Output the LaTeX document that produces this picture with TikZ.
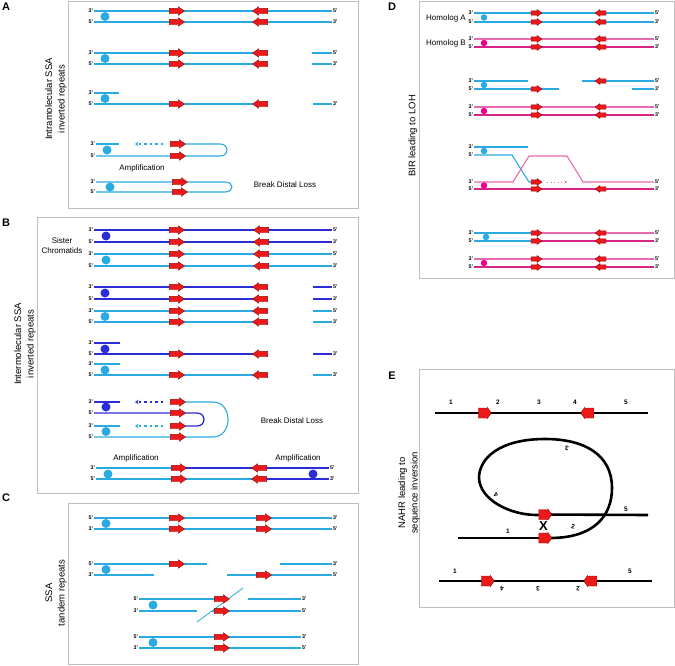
\documentclass[tikz,border=0pt]{standalone}
\usepackage{fontspec}
\setmainfont{Liberation Sans}
\usetikzlibrary{arrows.meta, shapes.arrows, backgrounds}

\definecolor{lblue}{RGB}{41,171,226}
\definecolor{dblue}{RGB}{45,45,215}
\definecolor{pinka}{RGB}{232,105,175}
\definecolor{pinkb}{RGB}{215,35,135}
\definecolor{pdot}{RGB}{236,0,140}
\definecolor{redfill}{RGB}{235,25,25}
\definecolor{redline}{RGB}{150,10,10}
\definecolor{boxgray}{RGB}{190,190,190}

\begin{document}
\begin{tikzpicture}[x=1pt, y=-1pt,
  font=\fontsize{8}{9.5}\selectfont,
  panel/.style={draw=boxgray, line width=0.8pt},
  letter/.style={font=\fontsize{11}{12}\selectfont\bfseries},
  vlabel/.style={rotate=90, align=center, font=\fontsize{9.5}{12.5}\selectfont},
  term/.style={font=\fontsize{5.3}{6}\selectfont\bfseries, inner sep=0.8pt},
  num/.style={font=\fontsize{6.5}{7}\selectfont\bfseries, inner sep=0.5pt},
  lb/.style={draw=lblue, line width=1.1pt},
  lbt/.style={draw=lblue, line width=1.1pt},
  db/.style={draw=dblue, line width=1.3pt},
  pa/.style={draw=pinka, line width=1.1pt},
  pb/.style={draw=pinkb, line width=1.1pt},
  bk/.style={draw=black, line width=2.6pt},
  rep/.style={single arrow, draw=redline, fill=redfill, line width=0.4pt,
    inner xsep=0pt, inner ysep=2.5pt, minimum width=0pt, minimum height=15pt,
    single arrow head extend=1.6pt, single arrow tip angle=70},
  srep/.style={rep, minimum height=11pt, inner ysep=1.9pt,
    single arrow head extend=1.3pt},
  brep/.style={rep, minimum height=13pt, inner ysep=4.8pt,
    single arrow head extend=0.5pt, single arrow tip angle=110},
  rev/.style={shape border rotate=180},
  dot/.style={circle, fill=lblue, minimum size=9pt, inner sep=0pt},
  ddot/.style={dot, fill=dblue},
  ldt/.style={dot, minimum size=6.5pt},
  pdt/.style={dot, fill=pdot, minimum size=6.5pt},
  back/.style={dash pattern=on 2.5pt off 3pt, line width=1.1pt,
    -{Stealth[length=3.5pt, width=4.5pt]}},
  fwd/.style={dash pattern=on 1pt off 2.5pt, line width=0.9pt,
    -{Stealth[length=2.5pt, width=3pt]}}]

  \useasboundingbox (0,0) rectangle (675,665);

  % A: intramolecular SSA
  \node[letter] (labA) at (6,7) {A};
  \node[vlabel] (vA) at (56,99) {Intramolecular SSA\\inverted repeats};
  \foreach \s/\y/\l/\r in {t/11/3'/5', b/22/5'/3'} {
    \node[term, left] (a1l\s) at (94,\y) {\l};
    \node[term, right] (a1r\s) at (332,\y) {\r};
    \node[rep] (a1p\s) at (175,\y) {};
    \node[rep, rev] (a1q\s) at (262,\y) {};
    \begin{scope}[on background layer]
      \draw[lb] (a1l\s) -- (a1r\s);
    \end{scope}
  }
  \node[dot] (a1d) at (105,16.5) {};
  \foreach \s/\y/\l/\r in {t/53/3'/5', b/64/5'/3'} {
    \node[term, left] (a2l\s) at (94,\y) {\l};
    \node[term, right] (a2r\s) at (332,\y) {\r};
    \node[rep] (a2p\s) at (175,\y) {};
    \node[rep, rev] (a2q\s) at (262,\y) {};
    \coordinate (a2f\s) at (312,\y);
    \begin{scope}[on background layer]
      \draw[lb] (a2l\s) -- (a2q\s.center);
      \draw[lb] (a2f\s) -- (a2r\s);
    \end{scope}
  }
  \node[dot] (a2d) at (105,58.5) {};
  \node[term, left] (a3lt) at (94,93) {3'};
  \node[term, left] (a3lb) at (94,104) {5'};
  \node[term, right] (a3rb) at (332,104) {3'};
  \coordinate (a3e) at (119,93);
  \coordinate (a3f) at (313,104);
  \node[rep] (a3p) at (175,104) {};
  \node[rep, rev] (a3q) at (262,104) {};
  \node[dot] (a3d) at (105,98.5) {};
  \node[term, left] (a4lt) at (96,144) {3'};
  \node[term, left] (a4lb) at (96,156) {5'};
  \node[rep] (a4pt) at (176,144) {};
  \node[rep] (a4pb) at (176,156) {};
  \coordinate (a4e) at (119,144);
  \coordinate (a4s) at (163,144);
  \coordinate (a4g) at (135,144);
  \node[dot] (a4d) at (107,150) {};
  \node (amp1) at (142,168) {Amplification};
  \node[term, left] (a5lt) at (96,182) {3'};
  \node[term, left] (a5lb) at (96,192) {5'};
  \node[rep] (a5pt) at (178,182) {};
  \node[rep] (a5pb) at (178,192) {};
  \node[dot] (a5d) at (110,187) {};
  \node (bdl1) at (285,185) {Break Distal Loss};
  \begin{scope}[on background layer]
    \draw[panel] (68,1) rectangle (358,208);
    \draw[lb] (a3lt) -- (a3e);
    \draw[lb] (a3lb) -- (a3q.center);
    \draw[lb] (a3f) -- (a3rb);
    \draw[lb] (a4lt) -- (a4e);
    \draw[lb, back] (a4s) -- (a4g);
    \draw[lb] (a4lb) -- (220,156) .. controls (229.3,156) and (229.3,144) .. (220,144) -- (a4pt.center);
    \draw[lb] (a5lb) -- (225,192) .. controls (234.3,192) and (234.3,182) .. (225,182) -- (a5lt);
  \end{scope}

  % B: intermolecular SSA
  \node[letter] (labB) at (6,223) {B};
  \node[vlabel] (vB) at (25,344) {Intermolecular SSA\\inverted repeats};
  \node[align=center, font=\fontsize{8}{10}\selectfont] (sis) at (62,246) {Sister\\Chromatids};
  \foreach \s/\y/\l/\r/\c in {a/230/3'/5'/db, b/242/5'/3'/db, c/254/3'/5'/lb, d/266/5'/3'/lb} {
    \node[term, left] (b1l\s) at (94,\y) {\l};
    \node[term, right] (b1r\s) at (332,\y) {\r};
    \node[rep] (b1p\s) at (175,\y) {};
    \node[rep, rev] (b1q\s) at (263,\y) {};
    \begin{scope}[on background layer]
      \draw[\c] (b1l\s) -- (b1r\s);
    \end{scope}
  }
  \node[ddot] (b1da) at (106,236) {};
  \node[dot] (b1db) at (106,260) {};
  \foreach \s/\y/\l/\r/\c in {a/287/3'/5'/db, b/299/5'/3'/db, c/311/3'/5'/lb, d/322/5'/3'/lb} {
    \node[term, left] (b2l\s) at (94,\y) {\l};
    \node[term, right] (b2r\s) at (332,\y) {\r};
    \node[rep] (b2p\s) at (175,\y) {};
    \node[rep, rev] (b2q\s) at (262,\y) {};
    \coordinate (b2f\s) at (313,\y);
    \begin{scope}[on background layer]
      \draw[\c] (b2l\s) -- (b2q\s.center);
      \draw[\c] (b2f\s) -- (b2r\s);
    \end{scope}
  }
  \node[ddot] (b2da) at (105,293) {};
  \node[dot] (b2db) at (105,316.5) {};
  \foreach \s/\y/\c in {a/343/db, b/364/lb} {
    \node[term, left] (b3l\s) at (94,\y) {3'};
    \node[term, left] (b3m\s) at (94,\y+11) {5'};
    \node[term, right] (b3r\s) at (332,\y+11) {3'};
    \coordinate (b3e\s) at (120,\y);
    \coordinate (b3f\s) at (313,\y+11);
    \node[rep] (b3p\s) at (175,\y+11) {};
    \node[rep, rev] (b3q\s) at (262,\y+11) {};
    \begin{scope}[on background layer]
      \draw[\c] (b3l\s) -- (b3e\s);
      \draw[\c] (b3m\s) -- (b3q\s.center);
      \draw[\c] (b3f\s) -- (b3r\s);
    \end{scope}
  }
  \node[ddot] (b3da) at (105,349) {};
  \node[dot] (b3db) at (105,370) {};
  \foreach \s/\y/\c in {a/402/db, b/426/lb} {
    \node[term, left] (b4l\s) at (94,\y) {3'};
    \node[term, left] (b4m\s) at (94,\y+11) {5'};
    \node[rep] (b4p\s) at (176,\y) {};
    \node[rep] (b4q\s) at (176,\y+11) {};
    \coordinate (b4e\s) at (120,\y);
    \coordinate (b4s\s) at (163,\y);
    \coordinate (b4g\s) at (135,\y);
    \begin{scope}[on background layer]
      \draw[\c] (b4l\s) -- (b4e\s);
      \draw[\c, back] (b4s\s) -- (b4g\s);
    \end{scope}
  }
  \node[ddot] (b4da) at (106,407) {};
  \node[dot] (b4db) at (106,431.5) {};
  \node (bdl2) at (292,421) {Break Distal Loss};
  \node (amp2) at (136,458) {Amplification};
  \node (amp3) at (298,458) {Amplification};
  \foreach \s/\y/\l/\r in {t/468/3'/5', b/479/5'/3'} {
    \node[term, left] (b5l\s) at (96,\y) {\l};
    \node[term, right] (b5r\s) at (329,\y) {\r};
    \node[rep] (b5p\s) at (177,\y) {};
    \node[rep, rev] (b5q\s) at (261,\y) {};
  }
  \node[dot] (b5da) at (108,474) {};
  \node[ddot] (b5db) at (313,474) {};
  \begin{scope}[on background layer]
    \draw[panel] (37,217) rectangle (358,493);
    \draw[db] (b4ma) -- (197,413) .. controls (206.3,413) and (206.3,426) .. (197,426) -- (b4pb.center);
    \draw[lb] (b4mb) -- (213,437) .. controls (233,437) and (233,402) .. (213,402) -- (b4pa.center);
    \draw[lb] (b5lt) -- (b5pt.center);
    \draw[db] (b5pt.center) -- (b5rt);
    \draw[lb] (b5lb) -- (b5qb.center);
    \draw[db] (b5qb.center) -- (b5rb);
  \end{scope}

  % C: SSA between tandem repeats
  \node[letter] (labC) at (6,498) {C};
  \node[vlabel] (vC) at (56,593) {SSA\\tandem repeats};
  \foreach \s/\y/\l/\r in {t/518/5'/3', b/529/3'/5'} {
    \node[term, left] (c1l\s) at (94,\y) {\l};
    \node[term, right] (c1r\s) at (332,\y) {\r};
    \node[rep] (c1p\s) at (175,\y) {};
    \node[rep] (c1q\s) at (262,\y) {};
    \begin{scope}[on background layer]
      \draw[lb] (c1l\s) -- (c1r\s);
    \end{scope}
  }
  \node[dot] (c1d) at (106,523.5) {};
  \node[term, left] (c2lt) at (94,564) {5'};
  \node[term, left] (c2lb) at (94,575) {3'};
  \node[term, right] (c2rt) at (332,564) {3'};
  \node[term, right] (c2rb) at (332,575) {5'};
  \node[rep] (c2p) at (175,564) {};
  \node[rep] (c2q) at (262,575) {};
  \coordinate (c2e) at (207,564);
  \coordinate (c2f) at (280,564);
  \coordinate (c2g) at (154,575);
  \coordinate (c2h) at (227,575);
  \node[dot] (c2d) at (106,569.5) {};
  \node[term, left] (c3lt) at (139,599) {5'};
  \node[term, left] (c3lb) at (139,611) {3'};
  \node[term, right] (c3rt) at (301,599) {3'};
  \node[term, right] (c3rb) at (301,611) {5'};
  \node[rep] (c3p) at (220,599) {};
  \node[rep] (c3q) at (220,611) {};
  \coordinate (c3e) at (197,611);
  \coordinate (c3f) at (248,599);
  \coordinate (c3g) at (212,611);
  \coordinate (c3s) at (197,622);
  \coordinate (c3t) at (243,588);
  \node[dot] (c3d) at (153,605) {};
  \foreach \s/\y/\l/\r in {t/637/5'/3', b/648/3'/5'} {
    \node[term, left] (c4l\s) at (139,\y) {\l};
    \node[term, right] (c4r\s) at (301,\y) {\r};
    \node[rep] (c4p\s) at (220,\y) {};
    \begin{scope}[on background layer]
      \draw[lb] (c4l\s) -- (c4r\s);
    \end{scope}
  }
  \node[dot] (c4d) at (153,642.5) {};
  \begin{scope}[on background layer]
    \draw[panel] (68,503) rectangle (358,664);
    \draw[lb] (c2lt) -- (c2e);
    \draw[lb] (c2f) -- (c2rt);
    \draw[lb] (c2lb) -- (c2g);
    \draw[lb] (c2h) -- (c2rb);
    \draw[lb] (c3lt) -- (c3p.center);
    \draw[lb] (c3lb) -- (c3e);
    \draw[lb] (c3f) -- (c3rt);
    \draw[lb] (c3g) -- (c3rb);
    \draw[lb, line width=0.8pt] (c3s) -- (c3t);
  \end{scope}

  % D: BIR leading to LOH
  \node[letter] (labD) at (392,7) {D};
  \node[vlabel] (vD) at (413,136) {BIR leading to LOH};
  \node (homA) at (446,18) {Homolog A};
  \node (homB) at (446,43) {Homolog B};
  \foreach \n/\ya/\yb/\ca/\cb/\dt in {1/13/22/lbt/lbt/ldt, 2/39/47/pa/pb/pdt,
      4/107/115/pa/pb/pdt, 7/259/267/pa/pb/pdt} {
    \node[term, left] (dlt\n) at (474,\ya) {3'};
    \node[term, left] (dlb\n) at (474,\yb) {5'};
    \node[term, right] (drt\n) at (654,\ya) {5'};
    \node[term, right] (drb\n) at (654,\yb) {3'};
    \node[srep] (dpt\n) at (535,\ya) {};
    \node[srep] (dpb\n) at (535,\yb) {};
    \node[srep, rev] (dqt\n) at (602,\ya) {};
    \node[srep, rev] (dqb\n) at (602,\yb) {};
    \node[\dt] (dd\n) at (484,{(\ya+\yb)/2}) {};
    \begin{scope}[on background layer]
      \draw[\ca] (dlt\n) -- (drt\n);
      \draw[\cb] (dlb\n) -- (drb\n);
    \end{scope}
  }
  \node[term, left] (dlt3) at (474,81) {3'};
  \node[term, left] (dlb3) at (474,89) {5'};
  \node[term, right] (drt3) at (654,81) {5'};
  \node[term, right] (drb3) at (654,89) {3'};
  \node[srep] (dpb3) at (535,89) {};
  \node[srep, rev] (dqt3) at (602,81) {};
  \coordinate (de3a) at (528,81);
  \coordinate (de3b) at (582,81);
  \coordinate (de3c) at (559,89);
  \coordinate (de3d) at (632,89);
  \node[ldt] (dd3) at (484,85) {};
  \node[term, left] (dlt5) at (474,147) {3'};
  \node[term, left] (dlb5) at (474,155) {5'};
  \node[term, left] (dmt5) at (474,182) {3'};
  \node[term, left] (dmb5) at (474,189) {5'};
  \node[term, right] (drt5) at (654,182) {5'};
  \node[term, right] (drb5) at (654,189) {3'};
  \node[srep] (dpt5) at (535,182) {};
  \node[srep] (dpb5) at (535,189) {};
  \node[srep, rev] (dqb5) at (602,189) {};
  \coordinate (de5a) at (528,147);
  \coordinate (de5s) at (547,182);
  \coordinate (de5t) at (567,182);
  \node[ldt] (dd5a) at (484,151) {};
  \node[pdt] (dd5b) at (484,185.5) {};
  \foreach \s/\y/\l/\r/\c in {t/233/3'/5'/pa, b/241/5'/3'/pb} {
    \node[term, left] (dl6\s) at (474,\y) {\l};
    \node[term, right] (dr6\s) at (654,\y) {\r};
    \node[srep] (dp6\s) at (535,\y) {};
    \node[srep, rev] (dq6\s) at (602,\y) {};
    \begin{scope}[on background layer]
      \draw[lbt] (dl6\s) -- (dp6\s.center);
      \draw[\c] (dp6\s.center) -- (dr6\s);
    \end{scope}
  }
  \node[ldt] (dd6) at (486,237) {};
  \begin{scope}[on background layer]
    \draw[panel] (419,1) rectangle (674,278);
    \draw[lbt] (dlt3) -- (de3a);
    \draw[lbt] (de3b) -- (drt3);
    \draw[lbt] (dlb3) -- (de3c);
    \draw[lbt] (de3d) -- (drb3);
    \draw[lbt] (dlt5) -- (de5a);
    \draw[lbt] (dlb5) -- (512,155) -- (529,182) -- (dpt5.center);
    \draw[pa] (dmt5) -- (513,182) -- (529,156) -- (567,156) -- (583,182) -- (drt5);
    \draw[pb] (dmb5) -- (drb5);
    \draw[pa, fwd] (de5s) -- (de5t);
  \end{scope}

  % E: NAHR leading to inversion
  \node[letter] (labE) at (392,376) {E};
  \node[vlabel] (vE) at (409,493) {NAHR leading to\\sequence inversion};
  \coordinate (e1a) at (435,413);
  \coordinate (e1b) at (648,413);
  \node[brep] (e1p) at (483,413) {};
  \node[brep, rev] (e1q) at (589,413) {};
  \foreach \t/\x in {1/451, 2/498, 3/539, 4/575, 5/626}
    \node[num] (e1n\t) at (\x,402) {\t};
  \node[brep] (e2p) at (543.5,514.5) {};
  \node[brep] (e2q) at (543.5,538) {};
  \coordinate (e2a) at (648,515);
  \coordinate (e2b) at (458,538);
  \node[font=\fontsize{13}{13}\selectfont\bfseries, inner sep=0pt] (cross) at (543.5,526.5) {X};
  \node[num] (e2n1) at (508,531) {1};
  \node[num, rotate=-10] (e2n2) at (573,527) {2};
  \node[num, rotate=170] (e2n3) at (567,448) {3};
  \node[num, rotate=140] (e2n4) at (496,495) {4};
  \node[num] (e2n5) at (626,509) {5};
  \coordinate (e3a) at (439,581);
  \coordinate (e3b) at (652,581);
  \node[brep] (e3p) at (486,581) {};
  \node[brep, rev] (e3q) at (592,581) {};
  \node[num] (e3n1) at (455,571) {1};
  \node[num] (e3n5) at (630,571) {5};
  \foreach \t/\x in {4/502, 3/538, 2/578}
    \node[num, rotate=180] (e3n\t) at (\x,589) {\t};
  \begin{scope}[on background layer]
    \draw[panel] (419,369) rectangle (674,607);
    \draw[bk] (e1a) -- (e1b);
    \draw[bk] (e2p.center) -- (e2a);
    \draw[bk] (e2b) -- (e2q.center);
    \draw[bk] (e2q.center) -- (550,538) .. controls (595,538) and (612,515) .. (612,488)
      .. controls (612,455) and (585,439) .. (545,439)
      .. controls (500,439) and (479,458) .. (479,478)
      .. controls (480,500) and (510,515) .. (537,515) -- (e2p.center);
    \draw[bk] (e3a) -- (e3b);
  \end{scope}
\end{tikzpicture}
\end{document}
